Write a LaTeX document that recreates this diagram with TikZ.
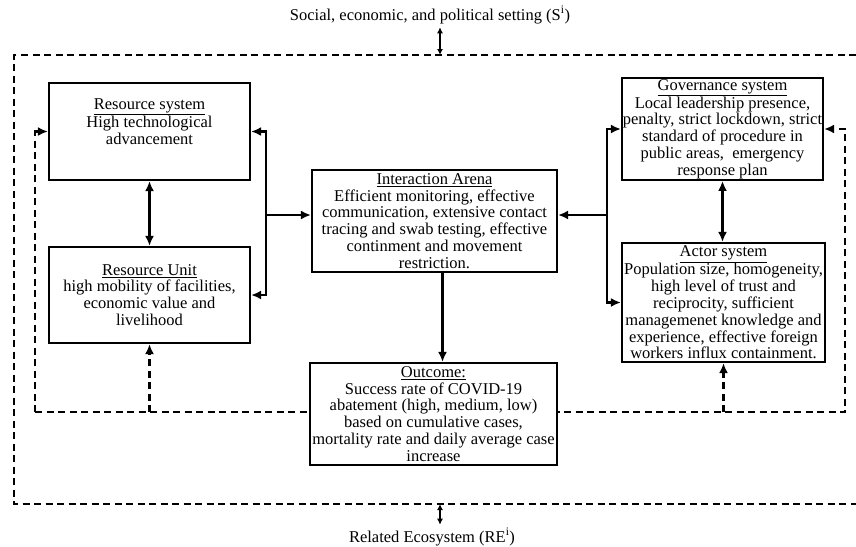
\documentclass[tikz,border=0pt]{standalone}
\usepackage{fontspec}
\setmainfont{Liberation Serif}
\usepackage{tikz}
\usetikzlibrary{arrows.meta,positioning}
\newcommand{\boxfont}{\fontsize{16.5}{16.8}\selectfont}
\tikzstyle{box} = [draw,line width=2.2pt,fill=white,align=center,inner xsep=0.5pt,inner ysep=1pt,font=\boxfont]
\tikzstyle{arrow} = [line width=2.2pt,-{Latex[length=10pt,width=9pt]}]
\tikzstyle{twoway} = [line width=2.2pt,{Latex[length=10pt,width=9pt]}-{Latex[length=10pt,width=9pt]}]
\tikzstyle{fback} = [line width=2.3pt,dash pattern=on 7pt off 4.5pt,-{Latex[length=10pt,width=9pt]}]
\tikzstyle{frame} = [line width=2.3pt,dash pattern=on 7pt off 4.5pt]
\tikzstyle{ctx} = [line width=1.5pt,{Latex[length=6pt,width=6pt]}-{Latex[length=6pt,width=6pt]}]

\begin{document}
\begin{tikzpicture}[x=1pt,y=-1pt]
\useasboundingbox (0,0) rectangle (856,546);

% Setting and frame
\node[font=\boxfont] (setting) at (430,15) {Social, economic, and political setting (S\textsuperscript{i})};
\node[font=\boxfont] (eco) at (432,537) {Related Ecosystem (RE\textsuperscript{i})};
\draw[frame] (856,55) -- (14,55) -- (14,504) -- (856,504);
\coordinate (ftop) at (440,55);
\coordinate (fbot) at (440,504);
\draw[ctx] (setting.south -| ftop) -- (ftop);
\draw[ctx] (fbot) -- (eco.north -| fbot);

% Subsystems
\node[box,minimum width=201pt,minimum height=97pt,text depth=20pt] (rsys) at (149.5,131.5)
  {\underline{Resource system}\\High technological\\advancement};
\node[box,minimum width=201pt,minimum height=96pt] (runit) at (149.5,295)
  {\underline{Resource Unit}\\high mobility of facilities,\\economic value and\\livelihood};
\node[box,minimum width=245pt,minimum height=102pt] (arena) at (434.5,221)
  {\underline{Interaction Arena}\\Efficient monitoring, effective\\communication, extensive contact\\tracing and swab testing, effective\\continment and movement\\restriction.};
\node[box,minimum width=201pt,minimum height=98pt] (gov) at (722.5,129)
  {\underline{Governance system}\\Local leadership presence,\\penalty, strict lockdown, strict\\standard of procedure in\\public areas,\ \ emergency\\response plan};
\node[box,minimum width=203pt,minimum height=119pt] (actor) at (723.5,302.5)
  {\underline{Actor system}\\Population size, homogeneity,\\high level of trust and\\reciprocity, sufficient\\managemenet knowledge and\\experience, effective foreign\\workers influx containment.};

% Feedback loop
\coordinate (fl) at (35,412);
\coordinate (fr) at (845,412);
\draw[fback] (fl) |- (rsys.west);
\draw[fback] (fl) -- (fr) |- (gov.east);
\draw[fback] (runit.south |- fl) -- (runit.south);
\draw[fback] (actor.south |- fr) -- (actor.south);

% Outcome
\node[box,minimum width=247pt,minimum height=102pt] (outcome) at (433.5,414)
  {\underline{Outcome:}\\Success rate of COVID-19\\abatement (high, medium, low)\\based on cumulative cases,\\mortality rate and daily average case\\increase};

% Links
\coordinate (lb) at (266,215);
\coordinate (rb) at (607,215);
\draw[twoway] (rsys) -- (runit);
\draw[twoway] (gov.south) -- (gov.south |- actor.north);
\draw[arrow] (lb) |- (rsys.east);
\draw[arrow] (lb) |- (runit.east);
\draw[arrow] (lb) -- (lb -| arena.west);
\draw[arrow] (rb) |- (gov.west);
\draw[arrow] (rb) |- (actor.west);
\draw[arrow] (rb) -- (rb -| arena.east);
\draw[arrow] ([xshift=8pt]arena.south) -- ([xshift=8pt]arena.south |- outcome.north);
\end{tikzpicture}
\end{document}
